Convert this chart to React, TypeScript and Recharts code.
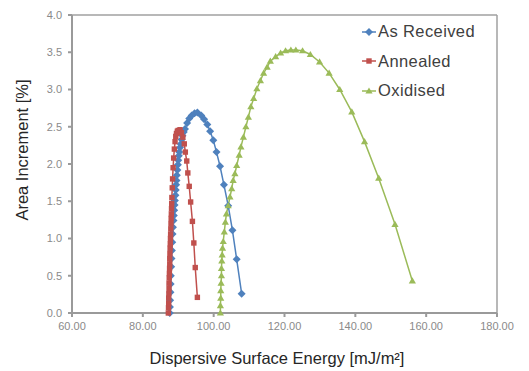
import { LineChart, Line, XAxis, YAxis, Legend, ReferenceLine, Label } from 'recharts';

const xTicks = [60, 80, 100, 120, 140, 160, 180];
const yTicks = [0, 0.5, 1, 1.5, 2, 2.5, 3, 3.5, 4];

const asReceivedX = [87.6, 87.65, 87.7, 87.8, 87.85, 87.9, 88.0, 88.1, 88.2, 88.3, 88.4, 88.5, 88.65, 88.75, 88.85, 88.95, 89.05, 89.2, 89.3, 89.4, 89.5, 89.6, 89.75, 89.9, 90.0, 90.15, 90.3, 90.5, 90.7, 90.95, 91.2, 91.55, 91.9, 92.5, 93.1, 93.8, 94.6, 95.4, 96.5, 97.3, 98.2, 99.0, 99.9, 100.8, 101.8, 102.9, 104.1, 105.3, 106.5, 107.9];
const asReceivedY = [0.0, 0.08, 0.17, 0.28, 0.39, 0.5, 0.62, 0.73, 0.84, 0.95, 1.06, 1.15, 1.24, 1.31, 1.38, 1.45, 1.51, 1.58, 1.65, 1.72, 1.78, 1.85, 1.92, 1.99, 2.05, 2.11, 2.16, 2.22, 2.27, 2.33, 2.38, 2.43, 2.47, 2.55, 2.61, 2.65, 2.68, 2.69, 2.65, 2.6, 2.53, 2.44, 2.32, 2.16, 1.97, 1.72, 1.44, 1.11, 0.72, 0.26];

const annealedX = [87.2, 87.25, 87.3, 87.3, 87.35, 87.4, 87.4, 87.45, 87.5, 87.55, 87.6, 87.6, 87.65, 87.7, 87.75, 87.8, 87.85, 87.9, 87.95, 88.0, 88.05, 88.1, 88.15, 88.2, 88.3, 88.4, 88.55, 88.7, 88.9, 89.1, 89.3, 89.5, 89.75, 90.0, 90.5, 90.9, 91.3, 91.7, 92.0, 92.4, 92.7, 93.1, 93.5, 94.0, 94.4, 94.8, 95.4];
const annealedY = [0.0, 0.07, 0.13, 0.2, 0.26, 0.33, 0.4, 0.47, 0.53, 0.6, 0.66, 0.73, 0.8, 0.87, 0.93, 1.0, 1.06, 1.13, 1.2, 1.27, 1.33, 1.4, 1.47, 1.55, 1.68, 1.8, 1.95, 2.08, 2.2, 2.3, 2.37, 2.41, 2.44, 2.45, 2.46, 2.42, 2.36, 2.27, 2.16, 2.04, 1.88, 1.7, 1.49, 1.23, 0.94, 0.61, 0.21];

const oxidisedX = [101.9, 101.9, 102.0, 102.0, 102.1, 102.2, 102.2, 102.3, 102.4, 102.5, 102.7, 103.0, 103.3, 103.6, 104.1, 104.6, 105.1, 105.5, 106.0, 106.5, 107.2, 107.7, 108.4, 109.1, 109.8, 110.5, 111.3, 112.2, 113.2, 114.1, 115.1, 116.0, 117.5, 118.9, 120.3, 121.8, 123.2, 125.1, 127.3, 129.9, 132.6, 135.6, 139.0, 142.6, 146.6, 151.2, 156.1];
const oxidisedY = [0.0, 0.1, 0.2, 0.3, 0.4, 0.5, 0.6, 0.7, 0.78, 0.87, 0.96, 1.09, 1.22, 1.33, 1.44, 1.56, 1.67, 1.78, 1.87, 1.98, 2.12, 2.23, 2.36, 2.5, 2.63, 2.77, 2.88, 3.01, 3.12, 3.22, 3.3, 3.38, 3.44, 3.49, 3.52, 3.53, 3.53, 3.52, 3.47, 3.37, 3.22, 3.0, 2.7, 2.3, 1.81, 1.19, 0.43];

const toPoints = (xs: number[], ys: number[]) => xs.map((x, i) => ({ x, y: ys[i] }));

const FONT = "'Liberation Sans', Arial, sans-serif";

type Shape = 'diamond' | 'square' | 'triangle';

function Marker({ shape, cx, cy, color }: { shape: Shape; cx: number; cy: number; color: string }) {
  if (shape === 'diamond') {
    return <polygon points={`${cx},${cy - 4} ${cx + 4},${cy} ${cx},${cy + 4} ${cx - 4},${cy}`} fill={color} />;
  }
  if (shape === 'square') {
    return <rect x={cx - 2.7} y={cy - 2.7} width={5.4} height={5.4} fill={color} />;
  }
  return <polygon points={`${cx},${cy - 3.6} ${cx + 3.6},${cy + 2.6} ${cx - 3.6},${cy + 2.6}`} fill={color} />;
}

const series = [
  { name: 'As Received', color: '#4F81BD', shape: 'diamond' as Shape, data: toPoints(asReceivedX, asReceivedY) },
  { name: 'Annealed', color: '#C0504D', shape: 'square' as Shape, data: toPoints(annealedX, annealedY) },
  { name: 'Oxidised', color: '#9BBB59', shape: 'triangle' as Shape, data: toPoints(oxidisedX, oxidisedY) },
];

function LegendBox() {
  return (
    <div style={{ fontFamily: FONT, fontSize: 16.5, color: '#404040', letterSpacing: 0.4 }}>
      {series.map(s => (
        <div key={s.name} style={{ display: 'flex', alignItems: 'center', height: 29.5 }}>
          <svg width={16} height={10} style={{ marginRight: 1 }}>
            <line x1={1} y1={5} x2={15} y2={5} stroke={s.color} strokeWidth={1.5} />
            <Marker shape={s.shape} cx={8} cy={5} color={s.color} />
          </svg>
          <span>{s.name}</span>
        </div>
      ))}
    </div>
  );
}

export default function App() {
  return (
    <div style={{ position: 'absolute', left: 0, top: 0, width: 529, height: 371, background: '#fff' }}>
      <LineChart width={529} height={371} margin={{ top: 15, right: 32, bottom: 28, left: 22 }}>
        <XAxis
          type="number"
          dataKey="x"
          domain={[60, 180]}
          ticks={xTicks}
          tickFormatter={v => v.toFixed(2)}
          allowDataOverflow
          height={30}
          stroke="#9a9a9a"
          strokeWidth={2}
          tickSize={4}
          tickMargin={5}
          tick={{ fontSize: 11, fill: '#8a8a8a', fontFamily: FONT }}
        >
          <Label
            content={() => (
              <text x={277} y={364} textAnchor="middle" fontFamily={FONT} fontSize={16.5} fill="#262626">
                Dispersive Surface Energy [mJ/m²]
              </text>
            )}
          />
        </XAxis>
        <YAxis
          type="number"
          dataKey="y"
          domain={[0, 4]}
          ticks={yTicks}
          tickFormatter={v => v.toFixed(1)}
          width={50}
          stroke="#9a9a9a"
          strokeWidth={2}
          tickSize={4}
          tickMargin={6}
          tick={{ fontSize: 11, fill: '#8a8a8a', fontFamily: FONT }}
        >
          <Label
            content={() => (
              <text
                x={22}
                y={150}
                transform="rotate(-90, 22, 150)"
                textAnchor="middle"
                dominantBaseline="central"
                fontFamily={FONT}
                fontSize={16.5}
                fill="#262626"
              >
                Area Increment [%]
              </text>
            )}
          />
        </YAxis>
        <ReferenceLine y={4} stroke="#a0a0a0" strokeWidth={1.5} />
        <ReferenceLine x={180} stroke="#a0a0a0" strokeWidth={1.5} />
        {series.map(s => (
          <Line
            key={s.name}
            data={s.data}
            dataKey="y"
            name={s.name}
            type="linear"
            stroke={s.color}
            strokeWidth={1.5}
            isAnimationActive={false}
            activeDot={false}
            dot={(p: any) => <Marker key={`${s.name}-${p.index}`} shape={s.shape} cx={p.cx} cy={p.cy} color={s.color} />}
          />
        ))}
        <Legend
          layout="horizontal"
          verticalAlign="middle"
          align="center"
          wrapperStyle={{ top: 17, left: 361, width: 'auto' }}
          content={() => <LegendBox />}
        />
      </LineChart>
    </div>
  );
}
